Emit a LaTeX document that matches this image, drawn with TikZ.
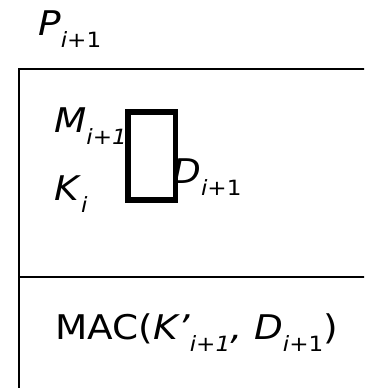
\documentclass[tikz,border=0pt]{standalone}
\usepackage{fontspec}
\setmainfont{DejaVu Sans}[FakeStretch=1.1]
\usetikzlibrary{positioning}

\newcommand{\lowsub}[1]{\raisebox{-12pt}{\fontsize{21}{21}\selectfont #1}}

\begin{document}
\begin{tikzpicture}[
    x=1pt, y=-1pt,
    every node/.style={font=\fontsize{34}{40}\selectfont, inner sep=0pt, anchor=base west},
    frame/.style={draw, line width=1.6pt},
    gatebox/.style={
        draw,
        fill=white,
        line width=5.5pt,
        anchor=center,
        minimum width=47.5pt,
        minimum height=88pt
    }
]
\useasboundingbox (0,0) rectangle (364,388);
\clip (0,0) rectangle (364,388);

% packet frame
\draw[frame] (19,400) -- (19,69) -- (380,69);
\draw[frame] (19,277) -- (380,277);

\node (P) at (38,35) {\textit{P}\lowsub{\textit{i}+1}};
\node (M) at (54,132) {\textit{M}\lowsub{\textit{i+1}}};
\node (K) at (54,200) {\textit{K}\lowsub{\textit{i}}};
\node (D) at (172,183) {\textit{D}\lowsub{\textit{i}+1}};

% gate drawn over the labels
\node[gatebox] (gate) at (151.75,156) {};

\node (mac) at (55,339) {MAC(\textit{K’}\lowsub{\textit{i+1}}\textit{,} \textit{D}\lowsub{\textit{i}+1})};

\end{tikzpicture}
\end{document}
